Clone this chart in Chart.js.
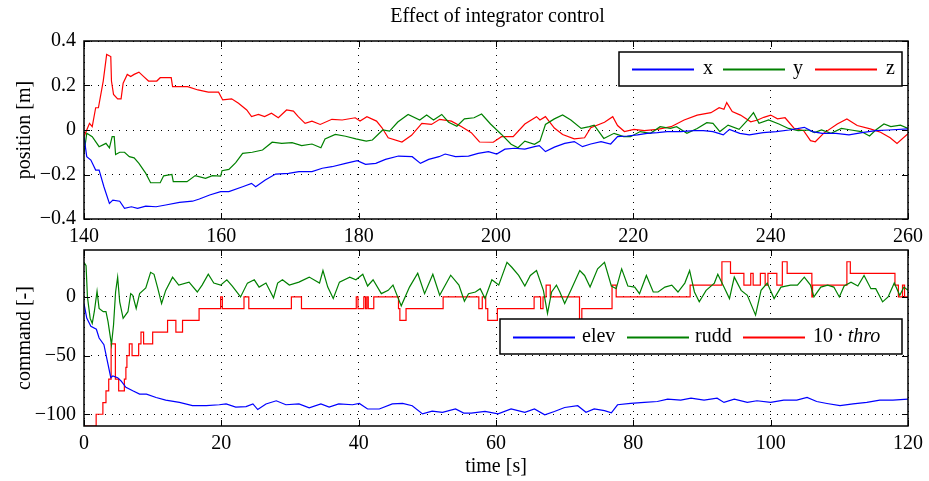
<!DOCTYPE html>
<html>
<head>
<meta charset="utf-8">
<script src="https://cdn.jsdelivr.net/npm/chart.js@4.4.1/dist/chart.umd.min.js"></script>
<style>
    body { margin: 0; background: #fff; }
    #page { position: relative; width: 929px; height: 481px; font-family: "Liberation Serif", "Times New Roman", serif; color: #000; }
    .abs { position: absolute; }
    #title { left: 0; width: 995px; top: 5px; text-align: center; font-size: 20px; line-height: 20px; }
</style>
</head>
<body>
<div id="page">
    <div class="abs" style="left:0;top:0;"><canvas id="topChart" width="929" height="250"></canvas></div>
    <div class="abs" style="left:0;top:230px;"><canvas id="botChart" width="929" height="251"></canvas></div>
    <div id="title" class="abs">Effect of integrator control</div>
</div>

<script>
// ---- position data (t = 140..260 s) ----
const xT = [140, 140.4, 141, 141.7, 142.2, 142.9, 143.7, 144.2, 145.2, 145.9, 146.9, 147.8, 149, 150.5, 151.9, 153.9, 155.8, 156.8, 158.3, 159.9, 161.1, 163.1, 164.4, 165, 166.4, 167.9, 169.8, 171.3, 173.2, 174.7, 176.1, 178.1, 179.8, 181, 182.5, 183.9, 185.8, 187.8, 189, 190.2, 191.7, 192.6, 194.1, 196, 197.4, 198.9, 200.1, 201.3, 202.7, 204.2, 205.6, 206.3, 207.2, 208.5, 210, 211.4, 212.6, 213.8, 215.3, 216.7, 217.7, 219.1, 220.6, 222, 223.5, 224.9, 226.9, 228.8, 230.2, 231.6, 233.1, 234, 235.5, 236.9, 238.9, 240.8, 242.7, 244.9, 246.1, 247.5, 249.5, 251.4, 253.3, 255.3, 257.2, 260];
const xVal = [-0.03, -0.12, -0.135, -0.18, -0.18, -0.255, -0.33, -0.315, -0.32, -0.352, -0.345, -0.352, -0.342, -0.345, -0.337, -0.325, -0.32, -0.31, -0.292, -0.277, -0.277, -0.255, -0.24, -0.255, -0.225, -0.198, -0.195, -0.187, -0.187, -0.172, -0.165, -0.15, -0.138, -0.154, -0.15, -0.132, -0.117, -0.12, -0.15, -0.132, -0.12, -0.108, -0.12, -0.117, -0.105, -0.097, -0.108, -0.086, -0.082, -0.086, -0.075, -0.07, -0.097, -0.077, -0.06, -0.052, -0.075, -0.063, -0.052, -0.063, -0.03, -0.027, -0.022, -0.015, -0.012, -0.007, -0.007, -0.003, -0.003, -0.007, -0.022, 0.003, -0.015, -0.022, -0.012, -0.007, 0, 0.012, -0.007, -0.015, -0.015, -0.022, -0.012, -0.003, 0, 0.005];

const yT = [140, 140.4, 141.2, 142.2, 143.2, 143.7, 144.1, 144.4, 144.6, 145.2, 145.9, 146.6, 147.3, 148, 149, 149.7, 151.1, 151.6, 152.8, 153, 155, 156.2, 157.7, 158.7, 159.9, 160.1, 161.1, 162.1, 163.1, 164.5, 166, 167.4, 168.8, 170.3, 171.7, 173.2, 174.5, 175.1, 176.6, 178.1, 179.6, 181.1, 182, 183.5, 184.5, 185.7, 187.2, 188.9, 189.9, 190.9, 192.1, 193.1, 194.3, 195.4, 196.8, 197.9, 199.2, 200.8, 202.2, 203.2, 204.2, 205.6, 206.4, 207.2, 208.5, 209.7, 210.9, 212.4, 213.6, 214.3, 215.7, 217.2, 218.6, 219.6, 221, 222.5, 223.9, 225.4, 226.3, 227.8, 229.3, 230.7, 231.6, 232.6, 233.8, 235.4, 236.6, 237.5, 238.3, 239.7, 241.2, 242.6, 244, 245.5, 246.4, 247.4, 248.8, 250.3, 251.7, 253.2, 254.4, 255.3, 256.5, 257.5, 258.9, 260];
const yVal = [-0.105, -0.015, -0.03, -0.075, -0.06, -0.08, -0.03, -0.03, -0.11, -0.1, -0.1, -0.12, -0.125, -0.15, -0.195, -0.237, -0.237, -0.206, -0.2, -0.232, -0.232, -0.205, -0.217, -0.205, -0.207, -0.183, -0.177, -0.147, -0.105, -0.1, -0.09, -0.055, -0.06, -0.057, -0.07, -0.063, -0.08, -0.04, -0.02, -0.028, -0.04, -0.05, -0.045, 0, -0.005, 0.036, 0.07, 0.045, 0.067, 0.045, 0.07, 0.035, 0.017, 0.05, 0.055, 0.072, 0.027, -0.02, -0.064, -0.08, -0.05, -0.064, -0.05, 0.025, 0.05, 0.068, 0.045, 0.007, 0.015, 0.022, -0.038, -0.015, -0.03, -0.03, -0.007, -0.015, 0.015, 0.007, 0.015, -0.015, 0.007, 0.033, 0.03, -0.007, 0.022, 0.003, 0.043, 0.078, 0.03, 0.045, 0.027, 0.007, -0.003, 0, -0.012, 0, -0.015, 0.007, 0, -0.007, -0.027, 0, 0.027, 0.015, 0.022, 0.007];

const zT = [140, 140.8, 141.2, 141.7, 142.1, 142.8, 143.3, 143.9, 144.0, 144.3, 144.9, 145.4, 145.7, 146.3, 146.8, 147.3, 148, 148.7, 149.4, 150.6, 151.1, 152.7, 152.9, 155.1, 156.6, 158.1, 159.6, 160.2, 161.5, 162.5, 163.7, 164.4, 165.4, 166.3, 167.3, 168.3, 169.5, 170.5, 171.2, 172.2, 173.2, 174.4, 176.1, 177.6, 179.5, 180.2, 181.2, 182.6, 183.4, 184.3, 186.3, 187.7, 189.2, 190.6, 191.8, 193.5, 195, 196.4, 197.6, 199.6, 200.8, 202.5, 204.2, 205.9, 206.4, 207.2, 208.5, 209.7, 211.4, 212.9, 213.8, 215.8, 217, 217.7, 218.7, 220.1, 221.6, 223.5, 225.5, 227.4, 229.3, 231.3, 232.5, 233.2, 233.6, 234.4, 235.6, 237.1, 238.1, 239, 240, 241, 242.1, 243.4, 244.8, 245.8, 246.5, 247.7, 249.7, 251.1, 252.6, 254.5, 256, 257.4, 258.4, 260];
const zVal = [-0.03, 0.03, 0.015, 0.1, 0.1, 0.22, 0.34, 0.33, 0.22, 0.16, 0.14, 0.14, 0.21, 0.25, 0.24, 0.25, 0.26, 0.24, 0.22, 0.22, 0.235, 0.235, 0.195, 0.195, 0.18, 0.17, 0.17, 0.135, 0.14, 0.12, 0.09, 0.06, 0.07, 0.06, 0.075, 0.055, 0.09, 0.085, 0.06, 0.03, 0.04, 0.025, 0.048, 0.045, 0.055, 0.04, 0.06, 0.04, 0.01, -0.035, -0.054, -0.024, 0.03, 0.025, 0.048, 0.04, 0.015, -0.012, -0.054, -0.055, -0.03, -0.03, 0.027, 0.06, 0.045, 0.06, 0.009, -0.02, -0.04, -0.035, 0.01, 0.035, 0.06, 0.02, -0.007, 0.003, -0.003, 0.003, 0.015, 0.045, 0.067, 0.078, 0.1, 0.093, 0.123, 0.083, 0.067, 0.037, 0.045, 0.057, 0.067, 0.05, 0.055, 0.008, -0.003, -0.048, -0.053, -0.015, 0.027, 0.05, 0.02, 0.005, -0.01, -0.035, -0.06, -0.017];

// ---- command data (t = 0..120 s) ----
const elevT = [0, 0.4, 1, 1.8, 2.2, 2.9, 3.5, 3.9, 4.2, 4.9, 5.4, 6.1, 7.1, 8.1, 9.1, 10.5, 11.9, 13.9, 15.8, 17.8, 19.7, 20.7, 22.1, 23.6, 24.6, 25.3, 26.5, 28, 29.4, 31.3, 32.8, 34.5, 35.7, 37.1, 39.1, 40.1, 41.3, 43, 44.9, 46.4, 47.8, 49.3, 50.7, 52.2, 54.1, 55.3, 56.4, 58.4, 60.3, 62.2, 64.2, 65.6, 67.1, 68.5, 70, 71.9, 73.1, 74.3, 75.8, 76.8, 77.7, 79.6, 81.6, 83.5, 85, 86.9, 88.4, 90.3, 92.2, 93.2, 94.7, 96.6, 98, 100, 101.9, 103.8, 105.3, 106.7, 108.2, 110.1, 112, 114, 115.9, 117.8, 120];
const elevVal = [-5.6, -18, -25, -27.5, -35, -40.7, -57.5, -68.8, -67.4, -68.8, -71.6, -77, -80, -82.8, -82.8, -85.7, -87.9, -89.9, -92.7, -92.7, -91.9, -91.2, -93.9, -93.5, -91.2, -96, -91.2, -88.5, -91.9, -91.2, -94.6, -91.2, -93.9, -91.2, -91.9, -90.8, -95.5, -95.5, -91.2, -90.8, -92.7, -99.7, -97.4, -98.3, -95.5, -99, -99, -97.6, -99.7, -95.5, -98.3, -95.5, -100.5, -97.6, -94.2, -92.7, -98.3, -95.5, -96.9, -98.8, -91.9, -90.8, -89.9, -89.1, -87.1, -87.9, -86.3, -87.9, -86.3, -89.9, -87.1, -89.9, -88.5, -89.9, -87.9, -87.9, -85.7, -89.1, -90.8, -92.7, -91.2, -89.9, -87.9, -87.9, -87.1];

const ruddT = [0, 0.3, 0.5, 0.9, 1.2, 1.5, 1.9, 2.2, 2.8, 3.2, 3.5, 4.0, 4.3, 4.6, 4.9, 5.2, 5.7, 6.4, 6.8, 7.1, 7.6, 8.1, 9.0, 9.7, 10.2, 10.7, 11.3, 11.9, 12.9, 13.8, 15.3, 16.5, 17.2, 18.1, 18.9, 19.9, 20.8, 21.6, 22.8, 23.8, 24.8, 25.5, 26.5, 27.6, 28.2, 28.9, 29.9, 31.3, 32.8, 34.3, 34.8, 35.5, 36.3, 37.2, 38.7, 39.6, 40.6, 41.3, 42.1, 43.3, 44.3, 45.0, 46.2, 47.4, 48.6, 49.6, 50.8, 51.8, 53.4, 54.6, 55.4, 56.0, 57.0, 57.7, 58.4, 59.4, 60.4, 61.6, 62.3, 63.3, 64.2, 65.0, 65.9, 66.9, 67.5, 68.1, 68.8, 69.3, 70.0, 71.0, 72.2, 72.9, 73.7, 74.8, 75.8, 76.8, 77.5, 78.3, 79.2, 80.2, 80.9, 81.9, 82.9, 83.6, 84.6, 85.6, 86.5, 87.5, 88.2, 88.9, 89.6, 90.6, 91.8, 92.3, 93.2, 94.0, 94.7, 95.7, 96.6, 97.8, 98.6, 99.5, 100.5, 101.5, 102.9, 103.9, 104.9, 105.8, 106.3, 107.3, 108.3, 109.2, 110.0, 110.7, 111.7, 112.7, 113.6, 114.6, 115.3, 116.3, 117.1, 118.0, 118.8, 119.4, 120];
const ruddVal = [29.5, 26.7, 0, -18.3, -22.5, -12.6, 4.8, -9.8, -12.6, -12.6, -21, -40.7, -23.9, 4.2, 16.9, -4.2, -18.3, -12.6, 2.8, 1.4, -9.8, 2.8, 7.6, 21, 19.3, 8.4, -5.6, 5.6, 16.9, 10.1, 12.6, 4.2, 10.1, 19.3, 11.8, 10.1, 14.6, 9.3, 0, 11.8, 14.6, 8.4, 11.8, -0.8, 11.8, 14.6, 10.1, 12.6, 16.9, 11.8, 22.5, 8.4, -1.4, 12.6, 16.9, 14.6, 19.3, 9.3, 14.6, 2.8, 5.6, 10.1, -7.6, 8.4, 20.2, 2.8, 19.3, 1.4, 18.5, 10.1, -3.7, 2.8, 4.2, 7, -1.4, 14.6, 10.1, 29.5, 25.3, 18.3, 9.3, 18.3, 22.5, 5.6, -14, 4.2, 10.1, 4.2, -5.6, 7, 22.5, 18.3, 8.4, 23.9, 29.5, 9.3, 7, 23.9, 9.3, 8.4, 2.8, 18.3, 4.2, 4.2, 8.4, 10.1, 4.2, 11.8, 22.5, 4.2, -4.2, 5.6, 11.8, 19.3, 8.4, -1.4, 16.9, 5.6, 1.4, -15.5, 5.6, 11.8, -1.4, 8.4, 10.1, 10.1, 16.9, 10.1, 0, 8.4, 10.1, 8.4, 0, 9.3, 12.6, 9.3, 18.3, 7, 7, -4.2, 0, 11.8, 1.4, 8.4, 5.6];

// throttle is piecewise constant: level holds from each time until the next
const throT = [0, 1.77, 2.75, 3.2, 3.6, 3.95, 4.57, 5.05, 5.88, 6.1, 6.25, 6.6, 7.0, 7.96, 8.3, 8.68, 10.0, 12.17, 13.38, 14.35, 16.76, 19.9, 20.15, 23.3, 24.0, 30.2, 31.67, 39.65, 39.9, 40.75, 41.0, 41.2, 41.4, 42.2, 45.8, 46.0, 46.9, 52.3, 57.5, 58.0, 58.5, 58.8, 60.2, 65.55, 66.5, 66.85, 67.3, 67.9, 72.16, 72.5, 76.9, 77.5, 88.27, 92.9, 94.15, 96.1, 97.1, 97.45, 98.5, 99.2, 99.6, 100.9, 101.7, 102.4, 106.0, 106.1, 111.1, 111.6, 118.1, 118.6, 119.2, 119.5, 120];
const thro10 = [-110, -100, -90, -80, -70, -40, -70, -80, -70, -60, -50, -40, -50, -40, -30, -40, -30, -20, -30, -20, -10, 0, -10, 0, -10, 0, -10, 0, -10, 0, -10, 0, -10, 0, -10, -20, -10, 0, -10, 0, -10, -20, -10, 0, -10, 0, 10, 0, -20, -10, 10, 0, 10, 30, 20, 10, 20, 10, 20, 10, 20, 10, 30, 20, 0, 10, 30, 20, 10, 0, 10, 0, 0];

const topXTicks = [140, 160, 180, 200, 220, 240, 260];
const topYTicks = [-0.4, -0.2, 0, 0.2, 0.4];
const botXTicks = [0, 20, 40, 60, 80, 100, 120];
const botYTicks = [-100, -50, 0];

const topLegend = ["x", "y", "z"];
const botLegend = ["elev", "rudd", "10\u2009\u00b7\u2009", "thro"];

function zip(ts, vs) {
    return ts.map((t, i) => ({ x: t, y: vs[i] }));
}

function fmt(v) {
    return String(Math.round(v * 1000) / 1000).replace("-", "\u2212");
}

const FAMILY = "'Liberation Serif', 'Times New Roman', serif";
const FONT = { family: FAMILY, size: 20 };

// box around the plot plus small inward tick marks on all four sides
const framePlugin = {
    id: "frame",
    afterDraw(chart) {
        const { ctx, chartArea: a, scales } = chart;
        ctx.save();
        ctx.strokeStyle = "#000";
        ctx.lineWidth = 1.5;
        ctx.strokeRect(a.left, a.top, a.right - a.left, a.bottom - a.top);
        ctx.lineWidth = 1;
        const L = 6;
        ctx.beginPath();
        scales.x.ticks.forEach((t) => {
            const px = Math.round(scales.x.getPixelForValue(t.value)) + 0.5;
            ctx.moveTo(px, a.bottom); ctx.lineTo(px, a.bottom - L);
            ctx.moveTo(px, a.top); ctx.lineTo(px, a.top + L);
        });
        scales.y.ticks.forEach((t) => {
            const py = Math.round(scales.y.getPixelForValue(t.value)) + 0.5;
            ctx.moveTo(a.left, py); ctx.lineTo(a.left + L, py);
            ctx.moveTo(a.right, py); ctx.lineTo(a.right - L, py);
        });
        ctx.stroke();
        ctx.restore();
    },
};

// matlab-like boxed legend, drawn on the canvas
// box: [left, top, right, bottom]; items: [lineStart, lineEnd, textX, color, label, italicTail]
function legendPlugin(box, items) {
    return {
        id: "boxLegend",
        afterDraw(chart) {
            const ctx = chart.ctx;
            const [l, t, r, b] = box;
            const cy = (t + b) / 2;
            ctx.save();
            ctx.fillStyle = "#fff";
            ctx.fillRect(l, t, r - l, b - t);
            ctx.strokeStyle = "#000";
            ctx.lineWidth = 1.5;
            ctx.strokeRect(l, t, r - l, b - t);
            ctx.textBaseline = "middle";
            items.forEach(([x0, x1, tx, color, label, tail]) => {
                ctx.fillStyle = color;
                ctx.fillRect(x0, Math.round(cy) - 0.5, x1 - x0, 2);
                ctx.fillStyle = "#000";
                ctx.font = `20px ${FAMILY}`;
                ctx.fillText(label, tx, cy);
                if (tail) {
                    const w = ctx.measureText(label).width;
                    ctx.font = `italic 20px ${FAMILY}`;
                    ctx.fillText(tail, tx + w, cy);
                }
            });
            ctx.restore();
        },
    };
}

function lineSet(data, color, extra) {
    return Object.assign({
        data,
        borderColor: color,
        borderWidth: 1.2,
        pointRadius: 0,
        fill: false,
        tension: 0,
    }, extra || {});
}

function makeOptions(cfg) {
    const grid = {
        color: "#000",
        lineWidth: 1,
        drawTicks: false,
    };
    const border = { display: false, dash: [1, 6] };
    return {
        responsive: false,
        animation: false,
        devicePixelRatio: 1,
        layout: { padding: { top: cfg.padTop, right: 18, left: 0, bottom: 0 } },
        plugins: { legend: { display: false }, tooltip: { enabled: false } },
        scales: {
            x: {
                type: "linear",
                min: cfg.xMin,
                max: cfg.xMax,
                grid,
                border,
                afterBuildTicks: (s) => { s.ticks = cfg.xTicks.map((v) => ({ value: v })); },
                afterFit: (s) => { s.height = cfg.xHeight; },
                ticks: { color: "#000", font: FONT, padding: 6, maxRotation: 0, callback: (v) => fmt(v) },
                title: cfg.xTitle
                    ? { display: true, text: cfg.xTitle, color: "#000", font: FONT, padding: { top: 2, bottom: 2 } }
                    : { display: false },
            },
            y: {
                type: "linear",
                min: cfg.yMin,
                max: cfg.yMax,
                grid,
                border,
                afterBuildTicks: (s) => { s.ticks = cfg.yTicks.map((v) => ({ value: v })); },
                afterFit: (s) => { s.width = 84; },
                ticks: { color: "#000", font: FONT, padding: 8, callback: (v) => fmt(v) },
                title: { display: true, text: cfg.yTitle, color: "#000", font: FONT, padding: { top: 13, bottom: 0 } },
            },
        },
    };
}

new Chart(document.getElementById("topChart"), {
    type: "line",
    data: {
        datasets: [
            lineSet(zip(xT, xVal), "#0000ff"),
            lineSet(zip(yT, yVal), "#008000"),
            lineSet(zip(zT, zVal), "#ff0000"),
        ],
    },
    options: makeOptions({
        padTop: 41, xMin: 140, xMax: 260, yMin: -0.4, yMax: 0.4,
        xTicks: topXTicks, yTicks: topYTicks, xHeight: 31, yTitle: "position [m]",
    }),
    plugins: [framePlugin, legendPlugin([619, 52, 902, 86], [
        [632, 694, 703, "#0000ff", topLegend[0]],
        [723, 785, 793, "#008000", topLegend[1]],
        [815, 877, 886, "#ff0000", topLegend[2]],
    ])],
});

new Chart(document.getElementById("botChart"), {
    type: "line",
    data: {
        datasets: [
            lineSet(zip(elevT, elevVal), "#0000ff"),
            lineSet(zip(ruddT, ruddVal), "#008000"),
            lineSet(zip(throT, thro10), "#ff0000", { stepped: "before" }),
        ],
    },
    options: makeOptions({
        padTop: 18, xMin: 0, xMax: 120, yMin: -110, yMax: 40,
        xTicks: botXTicks, yTicks: botYTicks, xHeight: 55, yTitle: "command [-]", xTitle: "time [s]",
    }),
    plugins: [framePlugin, legendPlugin([500, 89, 902, 124], [
        [513, 575, 582, "#0000ff", botLegend[0]],
        [627, 689, 695, "#008000", botLegend[1]],
        [743, 805, 813, "#ff0000", botLegend[2], botLegend[3]],
    ])],
});
</script>
</body>
</html>
